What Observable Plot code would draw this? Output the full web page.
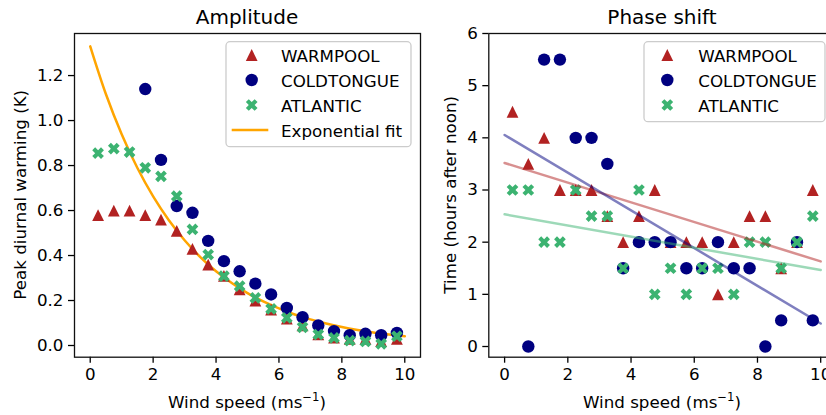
<!DOCTYPE html>
<html><head><meta charset="utf-8">
<script src="https://cdn.jsdelivr.net/npm/d3@7"></script>
<script src="https://cdn.jsdelivr.net/npm/@observablehq/plot@0.6"></script>
<style>
html,body{margin:0;padding:0;background:#fff;overflow:hidden;}
#wrap{position:relative;width:826px;height:415px;overflow:hidden;font-family:"DejaVu Sans",sans-serif;}
#wrap svg{position:absolute;top:0;}
</style></head><body><div id="wrap"></div>
<script>
// ---- data ----
const windSpeed = [0.25, 0.75, 1.25, 1.75, 2.25, 2.75, 3.25, 3.75, 4.25, 4.75, 5.25, 5.75, 6.25, 6.75, 7.25, 7.75, 8.25, 8.75, 9.25, 9.75];
const seriesNames = ["WARMPOOL", "COLDTONGUE", "ATLANTIC"];
const seriesColors = ["#b22222", "#000080", "#3cb371"];

// Amplitude panel (K)
const ampWarm = [0.58, 0.60, 0.60, 0.58, 0.56, 0.51, 0.43, 0.36, 0.31, 0.25, 0.20, 0.16, 0.12, 0.09, 0.05, 0.035, 0.03, 0.03, 0.02, 0.03];
const ampCold = [null, null, null, 1.14, 0.825, 0.62, 0.59, 0.465, 0.375, 0.33, 0.275, 0.227, 0.167, 0.126, 0.089, 0.064, 0.046, 0.052, 0.046, 0.056];
const ampAtl  = [0.855, 0.875, 0.86, 0.79, 0.752, 0.664, 0.516, 0.404, 0.308, 0.264, 0.212, 0.163, 0.123, 0.081, 0.049, 0.034, 0.022, 0.018, 0.007, 0.041];
// Exponential fit curve
const fitWind = [0, 0.5, 1, 1.5, 2, 2.5, 3, 3.5, 4, 4.5, 5, 5.5, 6, 6.5, 7, 7.5, 8, 8.5, 9, 9.5, 10];
const fitAmp  = [1.33, 1.117, 0.939, 0.789, 0.663, 0.557, 0.468, 0.393, 0.330, 0.278, 0.233, 0.196, 0.165, 0.138, 0.116, 0.098, 0.082, 0.069, 0.058, 0.049, 0.041];

// Phase shift panel (hours after noon)
const phWarm = [4.5, 3.5, 4, 3, 3, 3, 2.5, 2, 2.5, 3, 2, 2, 2, 1, 2, 2.5, 2.5, 1.5, 2, 3];
const phCold = [null, 0, 5.5, 5.5, 4, 4, 3.5, 1.5, 2, 2, 2, 1.5, 1.5, 2, 1.5, 1.5, 0, 0.5, 2, 0.5];
const phAtl  = [3, 3, 2, 2, 3, 2.5, 2.5, 1.5, 3, 1, 1.5, 1, 1.5, 1.5, 1, 2, 2, 1.5, 2, 2.5];
const trendX = [0, 10];

const xTicks = [0, 2, 4, 6, 8, 10];
const ampTicks = [0, 0.2, 0.4, 0.6, 0.8, 1.0, 1.2];
const phTicks = [0, 1, 2, 3, 4, 5, 6];

// ---- symbols (matplotlib ^ and X) ----
const triUp = {draw(ctx, size) {
  const r = Math.sqrt(size / Math.PI), h = r * 0.95;
  ctx.moveTo(0, -h); ctx.lineTo(h, h); ctx.lineTo(-h, h); ctx.closePath();
}};
const xFilled = {draw(ctx, size) {
  const r = Math.sqrt(size / Math.PI), a = r, w = r / 3, c = Math.SQRT1_2;
  const pts = [[-w,-a],[w,-a],[w,-w],[a,-w],[a,w],[w,w],[w,a],[-w,a],[-w,w],[-a,w],[-a,-w],[-w,-w]];
  pts.forEach(([x, y], i) => { const X = (x - y) * c, Y = (x + y) * c; i ? ctx.lineTo(X, Y) : ctx.moveTo(X, Y); });
  ctx.closePath();
}};
const symbols = [triUp, d3.symbolCircle, xFilled];

const rows = ys => windSpeed.map((x, i) => ({x, y: ys[i]})).filter(d => d.y != null);
function regression(ys) {
  const pts = rows(ys);
  const mx = d3.mean(pts, p => p.x), my = d3.mean(pts, p => p.y);
  const b = d3.sum(pts, p => (p.x - mx) * (p.y - my)) / d3.sum(pts, p => (p.x - mx) ** 2);
  const a = my - b * mx;
  return trendX.map(x => ({x, y: a + b * x}));
}
const dotMarks = (arrs) => arrs.map((ys, i) => Plot.dot(rows(ys), {x: "x", y: "y", symbol: symbols[i], r: 6.2, fill: seriesColors[i], stroke: "none"}));

const FS = "16.7px";
const style = {fontFamily: "DejaVu Sans, sans-serif", fontSize: FS, background: "transparent", overflow: "visible", color: "black"};

const left = Plot.plot({
  width: 430, height: 415,
  marginLeft: 74, marginRight: 10, marginTop: 33, marginBottom: 58.3,
  x: {domain: [-0.5, 10.5]},
  y: {domain: [-0.052, 1.387]},
  style,
  marks: [
    Plot.line(fitWind.map((x, i) => ({x, y: fitAmp[i]})), {x: "x", y: "y", stroke: "#ffa500", strokeWidth: 2.5, curve: "catmull-rom"}),
    ...dotMarks([ampWarm, ampCold, ampAtl]),
    Plot.axisX({ticks: xTicks, tickSize: 6, tickPadding: 5, label: null, strokeWidth: 1.3, fontSize: FS}),
    Plot.axisY({ticks: ampTicks, tickFormat: d3.format(".1f"), tickSize: 6, tickPadding: 5, label: null, strokeWidth: 1.3, fontSize: FS}),
    Plot.frame({stroke: "#111", strokeWidth: 1.3})
  ]
});
left.style.left = "0px";

const right = Plot.plot({
  width: 410, height: 415,
  marginLeft: 58.3, marginRight: 4, marginTop: 33, marginBottom: 58.3,
  x: {domain: [-0.5, 10.5]},
  y: {domain: [-0.205, 6]},
  style,
  marks: [
    ...dotMarks([phWarm, phCold, phAtl]),
    ...[phWarm, phCold, phAtl].map((ys, i) => Plot.line(regression(ys), {x: "x", y: "y", stroke: seriesColors[i], strokeOpacity: 0.5, strokeWidth: 2.5})),
    Plot.axisX({ticks: xTicks, tickSize: 6, tickPadding: 5, label: null, strokeWidth: 1.3, fontSize: FS}),
    Plot.axisY({ticks: phTicks, tickFormat: d3.format("d"), tickSize: 6, tickPadding: 5, label: null, strokeWidth: 1.3, fontSize: FS}),
    Plot.frame({stroke: "#111", strokeWidth: 1.3})
  ]
});
right.style.left = "430px";

const wrap = document.getElementById("wrap");
wrap.appendChild(left);
wrap.appendChild(right);

// ---- overlay: titles, axis labels, legends ----
const ov = d3.select(wrap).append("svg").attr("width", 826).attr("height", 415)
  .style("left", "0px").attr("font-family", "DejaVu Sans, sans-serif").attr("font-size", 16.7);

const titles = [["Amplitude", 247], ["Phase shift", 662]];
titles.forEach(([t, x]) => ov.append("text").attr("x", x).attr("y", 23.5).attr("text-anchor", "middle").attr("font-size", 20).text(t));

[247, 662].forEach(cx => {
  const t = ov.append("text").attr("x", cx).attr("y", 407.5).attr("text-anchor", "middle");
  t.append("tspan").text("Wind speed (ms");
  t.append("tspan").attr("dy", -7).attr("font-size", 11.7).text("\u22121");
  t.append("tspan").attr("dy", 7).text(")");
});
[["Peak diurnal warming (K)", 20], ["Time (hours after noon)", 450]].forEach(([t, x]) => {
  ov.append("text").attr("transform", `translate(${x},194.8) rotate(-90)`).attr("text-anchor", "middle")
    .attr("dominant-baseline", "central").text(t);
});

function legend(x0, y0, w, h, mx, tx, withFit) {
  const g = ov.append("g");
  g.append("rect").attr("x", x0).attr("y", y0).attr("width", w).attr("height", h).attr("rx", 4)
    .attr("fill", "white").attr("fill-opacity", 0.8).attr("stroke", "#cccccc").attr("stroke-width", 1.3);
  seriesNames.forEach((name, i) => {
    const cy = 55 + i * 25;
    g.append("path").attr("transform", `translate(${mx},${cy})`)
      .attr("d", d3.symbol(symbols[i], Math.PI * 6.2 * 6.2)()).attr("fill", seriesColors[i]);
    g.append("text").attr("x", tx).attr("y", cy + 6.5).text(name);
  });
  if (withFit) {
    const cy = 130;
    g.append("line").attr("x1", mx - 20).attr("x2", mx + 16.6).attr("y1", cy).attr("y2", cy)
      .attr("stroke", "#ffa500").attr("stroke-width", 2.5);
    g.append("text").attr("x", tx).attr("y", cy + 6.5).text("Exponential fit");
  }
}
legend(226, 41.7, 185, 105, 251.7, 281, true);
legend(644, 41.7, 181, 80, 667.3, 698.3, false);
</script>
</body></html>
